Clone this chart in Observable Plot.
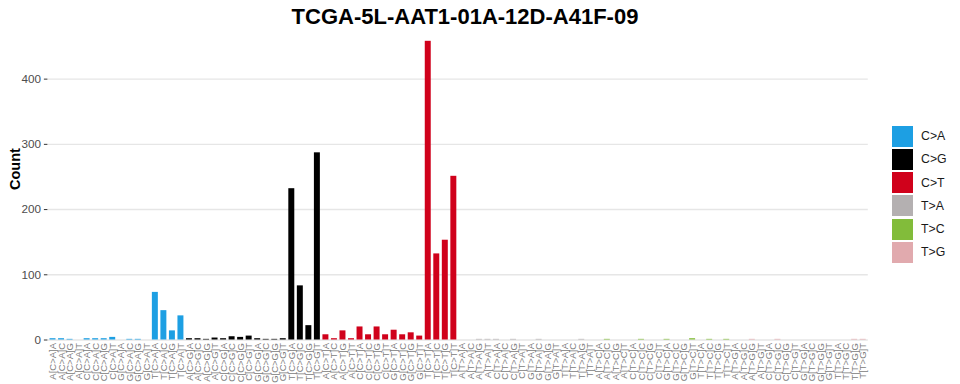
<!DOCTYPE html>
<html>
<head>
<meta charset="utf-8">
<script src="https://cdn.jsdelivr.net/npm/d3@7"></script>
<script src="https://cdn.jsdelivr.net/npm/@observablehq/plot@0.6"></script>
<style>
  html, body { margin: 0; padding: 0; background: #fff; }
  #wrap { position: relative; width: 960px; height: 384px; font-family: "Liberation Sans", Arial, sans-serif; }
  #title { position: absolute; left: 0; top: 0; width: 930px; height: 38px; text-align: center;
           font-size: 22px; font-weight: bold; line-height: 22px; padding-top: 6px; box-sizing: border-box; color: #000; }
  #chart { position: absolute; left: 0; top: 38px; }
  #legend { position: absolute; left: 892px; top: 125.5px; }
  .item { display: flex; align-items: center; height: 21px; margin-bottom: 2.3px; }
  .sw { width: 21px; height: 21px; }
  .lab { margin-left: 8px; font-size: 12.3px; color: #1a1a1a; }
</style>
</head>
<body>
<div id="wrap">
  <div id="title">TCGA-5L-AAT1-01A-12D-A41F-09</div>
  <div id="chart"></div>
  <div id="legend"></div>
</div>
<script>
const mutationTypes = ["C>A", "C>G", "C>T", "T>A", "T>C", "T>G"];
const flankBases = ["A", "C", "G", "T"];
const typeColors = ["#1D9FE3", "#000000", "#D0011B", "#B4B0B1", "#82BC3A", "#E1AAAE"];
const yTicks = [0, 100, 200, 300, 400];

const countsCA = [2, 2, 1, 0, 2, 2, 2, 4, 0, 1, 1, 0, 73, 45, 14, 37];
const countsCG = [2, 2, 1, 3, 2, 5, 4, 6, 2, 1, 1, 2, 232, 83, 22, 287];
const countsCT = [8, 2, 14, 2, 20, 8, 20, 8, 15, 8, 11, 6, 458, 132, 153, 251];
const countsTA = [0, 0, 1, 1, 1, 0, 1, 0, 0, 1, 0, 0, 0, 0, 1, 0];
const countsTC = [0, 1, 0, 0, 0, 1, 0, 0, 1, 0, 0, 2, 0, 1, 0, 1];
const countsTG = [0, 0, 1, 0, 0, 1, 0, 0, 0, 0, 0, 0, 0, 0, 1, 1];

const countsByType = [countsCA, countsCG, countsCT, countsTA, countsTC, countsTG];

const data = [];
mutationTypes.forEach((mt, ti) => {
  let k = 0;
  flankBases.forEach(b5 => {
    flankBases.forEach(b3 => {
      data.push({label: `${b5}[${mt}]${b3}`, type: mt, value: countsByType[ti][k]});
      k++;
    });
  });
});
const labels = data.map(d => d.label);

const chart = Plot.plot({
  width: 960,
  height: 346,
  marginTop: 1.5,
  marginBottom: 44.5,
  marginLeft: 47.4,
  marginRight: 92.2,
  style: {fontFamily: "'Liberation Sans', Arial, sans-serif", background: "#fff"},
  x: {type: "band", domain: labels, paddingInner: 0.3, paddingOuter: 0.25, align: 0.5},
  y: {domain: [0, 460]},
  color: {domain: mutationTypes, range: typeColors},
  marks: [
    Plot.ruleY(yTicks, {stroke: "#e6e6e6", strokeWidth: 1.4}),
    Plot.barY(data, {x: "label", y: "value", fill: "type"}),
    Plot.axisY({ticks: yTicks, tickSize: 3.5, tickPadding: 3.5, fontSize: 11.7, color: "#4d4d4d", stroke: "#333", label: null}),
    Plot.axisX({tickRotate: -90, tickSize: 0, tickPadding: 3, fontSize: 9.5, color: "#808080", label: null}),
    Plot.text(["Count"], {frameAnchor: "left", dx: -33, rotate: -90, fontWeight: "bold", fontSize: 14.5, fill: "#000"})
  ]
});
document.getElementById("chart").appendChild(chart);

const legend = document.getElementById("legend");
mutationTypes.forEach((mt, i) => {
  const it = document.createElement("div");
  it.className = "item";
  const sw = document.createElement("div");
  sw.className = "sw";
  sw.style.background = typeColors[i];
  const lab = document.createElement("div");
  lab.className = "lab";
  lab.textContent = mt;
  it.appendChild(sw);
  it.appendChild(lab);
  legend.appendChild(it);
});
</script>
</body>
</html>
